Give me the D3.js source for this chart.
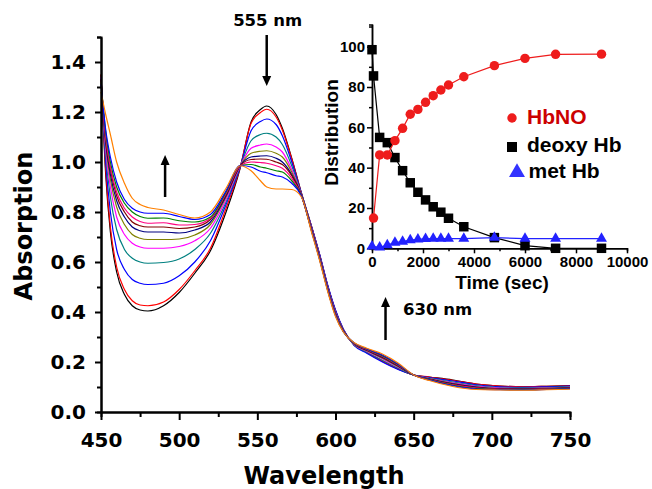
<!DOCTYPE html>
<html>
<head>
<meta charset="utf-8">
<title>HbNO formation - absorption spectra</title>
<script src="https://cdn.jsdelivr.net/npm/d3@7"></script>
<style>
  body { margin: 0; padding: 0; background: #fff; }
  svg { display: block; }
  .main text { font-family: "DejaVu Sans", sans-serif; font-weight: bold; fill: #000; }
  .inset text { font-family: "Liberation Sans", Arial, sans-serif; font-weight: bold; }
  .narrow text { font-family: "Liberation Sans Narrow", "Liberation Sans", Arial, sans-serif; }
  .spectrum { fill: none; stroke-width: 1.2px; }
</style>
</head>
<body>
<svg id="chart" width="652" height="489"></svg>
<script>
// ---- main panel: spectra read at these wavelengths (nm)
var wavelengths = [450, 453, 456, 460, 465, 470, 475, 480, 490, 500, 510, 520, 530, 539, 546, 552, 556, 562, 566, 572,
                   578, 585, 590, 595, 600, 605, 612, 620, 630, 640, 650, 660, 675, 690, 705, 720, 735, 750];

var absBlack   = [1.35, 0.95, 0.72, 0.56, 0.47, 0.425, 0.408, 0.404, 0.425, 0.478, 0.555, 0.645, 0.80, 0.975, 1.16, 1.21, 1.224, 1.19, 1.135, 1.015,
                  0.88, 0.735, 0.625, 0.505, 0.405, 0.33, 0.268, 0.238, 0.203, 0.172, 0.148, 0.14, 0.128, 0.112, 0.104, 0.101, 0.103, 0.106];
var absRed     = [1.35, 0.97, 0.74, 0.58, 0.49, 0.445, 0.428, 0.425, 0.44, 0.49, 0.565, 0.655, 0.815, 0.978, 1.155, 1.198, 1.211, 1.18, 1.128, 1.012,
                  0.879, 0.735, 0.625, 0.505, 0.405, 0.33, 0.268, 0.238, 0.204, 0.173, 0.148, 0.14, 0.127, 0.112, 0.104, 0.101, 0.103, 0.105];
var absBlue    = [1.34, 1.00, 0.80, 0.65, 0.57, 0.53, 0.515, 0.51, 0.515, 0.545, 0.60, 0.685, 0.83, 0.98, 1.125, 1.162, 1.172, 1.15, 1.105, 1.0,
                  0.878, 0.735, 0.627, 0.508, 0.408, 0.332, 0.266, 0.235, 0.20, 0.17, 0.148, 0.138, 0.124, 0.109, 0.101, 0.099, 0.101, 0.104];
var absCyan    = [1.34, 1.03, 0.86, 0.73, 0.65, 0.615, 0.60, 0.595, 0.598, 0.612, 0.65, 0.715, 0.84, 0.982, 1.085, 1.11, 1.115, 1.10, 1.07, 0.985,
                  0.875, 0.73, 0.62, 0.50, 0.40, 0.328, 0.268, 0.24, 0.207, 0.176, 0.148, 0.136, 0.12, 0.106, 0.098, 0.096, 0.098, 0.101];
var absMagenta = [1.34, 1.05, 0.90, 0.78, 0.71, 0.675, 0.66, 0.655, 0.655, 0.662, 0.685, 0.735, 0.85, 0.984, 1.055, 1.068, 1.072, 1.06, 1.04, 0.97,
                  0.873, 0.728, 0.618, 0.498, 0.398, 0.327, 0.27, 0.243, 0.212, 0.18, 0.148, 0.134, 0.117, 0.103, 0.096, 0.094, 0.096, 0.099];
var absOlive   = [1.33, 1.07, 0.93, 0.82, 0.75, 0.71, 0.695, 0.69, 0.69, 0.692, 0.708, 0.75, 0.86, 0.985, 1.035, 1.043, 1.045, 1.035, 1.02, 0.96,
                  0.872, 0.726, 0.616, 0.496, 0.396, 0.326, 0.271, 0.245, 0.215, 0.182, 0.148, 0.133, 0.115, 0.101, 0.094, 0.093, 0.095, 0.098];
var absNavy    = [1.33, 1.08, 0.95, 0.845, 0.78, 0.74, 0.725, 0.72, 0.72, 0.716, 0.728, 0.76, 0.865, 0.985, 1.02, 1.024, 1.025, 1.015, 1.0, 0.95,
                  0.871, 0.724, 0.614, 0.494, 0.394, 0.325, 0.272, 0.247, 0.218, 0.184, 0.148, 0.132, 0.113, 0.10, 0.093, 0.092, 0.094, 0.097];
var absWine    = [1.33, 1.09, 0.97, 0.865, 0.80, 0.76, 0.745, 0.74, 0.74, 0.734, 0.74, 0.77, 0.87, 0.985, 1.01, 1.012, 1.011, 1.0, 0.99, 0.945,
                  0.87, 0.722, 0.612, 0.492, 0.392, 0.324, 0.273, 0.249, 0.221, 0.186, 0.148, 0.131, 0.111, 0.098, 0.092, 0.091, 0.093, 0.096];
var absPink    = [1.32, 1.10, 0.98, 0.88, 0.815, 0.78, 0.762, 0.755, 0.757, 0.748, 0.75, 0.775, 0.875, 0.985, 1.0, 0.998, 0.995, 0.985, 0.975, 0.935,
                  0.869, 0.72, 0.61, 0.49, 0.39, 0.323, 0.274, 0.25, 0.223, 0.188, 0.148, 0.13, 0.109, 0.096, 0.091, 0.09, 0.092, 0.095];
var absGreen   = [1.32, 1.12, 1.00, 0.90, 0.835, 0.80, 0.782, 0.775, 0.776, 0.765, 0.76, 0.78, 0.88, 0.986, 0.99, 0.98, 0.975, 0.965, 0.96, 0.925,
                  0.868, 0.718, 0.608, 0.488, 0.388, 0.322, 0.275, 0.252, 0.225, 0.19, 0.148, 0.129, 0.107, 0.094, 0.09, 0.089, 0.091, 0.094];
var absRoyal   = [1.31, 1.13, 1.02, 0.92, 0.85, 0.815, 0.80, 0.795, 0.795, 0.782, 0.77, 0.79, 0.885, 0.986, 0.98, 0.963, 0.957, 0.945, 0.94, 0.915,
                  0.866, 0.716, 0.606, 0.486, 0.386, 0.321, 0.276, 0.253, 0.228, 0.192, 0.148, 0.128, 0.105, 0.092, 0.089, 0.088, 0.09, 0.093];
var absOrange  = [1.28, 1.19, 1.11, 1.00, 0.915, 0.855, 0.83, 0.818, 0.808, 0.79, 0.776, 0.80, 0.895, 0.985, 0.965, 0.925, 0.90, 0.892, 0.892, 0.89,
                  0.862, 0.712, 0.602, 0.482, 0.382, 0.32, 0.277, 0.255, 0.232, 0.196, 0.148, 0.126, 0.102, 0.09, 0.088, 0.087, 0.089, 0.091];

var xTicks = [450, 500, 550, 600, 650, 700, 750];
var yTicks = [0, 0.2, 0.4, 0.6, 0.8, 1.0, 1.2, 1.4];

// ---- inset: species distribution vs time
var timeHbNO  = [60, 300, 600, 900, 1200, 1500, 1800, 2100, 2400, 2700, 3000, 3600, 4800, 6000, 7200, 9000];
var hbno      = [15, 46.3, 46.3, 53.4, 59.5, 66.5, 68.9, 72.4, 75.7, 78.5, 81, 85.1, 90.6, 94.2, 96.2, 96.3];
var timeDeoxy = [0, 60, 300, 600, 900, 1200, 1500, 1800, 2100, 2400, 2700, 3000, 3600, 4800, 6000, 7200, 9000];
var deoxyHb   = [98.5, 85.5, 55, 52.4, 45, 38.5, 32.5, 27.8, 24, 20.6, 17.9, 14.9, 10.7, 5.3, 1.3, 0, 0];
var timeMet   = [0, 300, 600, 900, 1200, 1500, 1800, 2100, 2400, 2700, 3000, 3600, 4800, 6000, 7200, 9000];
var metHb     = [1, 0.5, 1.6, 2.8, 3.3, 4.1, 4.5, 4.7, 4.8, 4.8, 4.8, 4.8, 5.3, 4.8, 4.8, 4.8];
var timeTicks = [0, 2000, 4000, 6000, 8000, 10000];
var distTicks = [0, 20, 40, 60, 80, 100];

var svg = d3.select("#chart");

// ================= main plot =================
var x = d3.scaleLinear().domain([450, 750]).range([101, 570]);
var y = d3.scaleLinear().domain([0, 1.5]).range([412, 37]);

var main = svg.append("g").attr("class", "main");

var spectra = [
  { v: absBlack, c: "#000000" }, { v: absRed, c: "#ff0000" }, { v: absBlue, c: "#0000ff" },
  { v: absCyan, c: "#008080" }, { v: absMagenta, c: "#ff00ff" }, { v: absOlive, c: "#808000" },
  { v: absNavy, c: "#000080" }, { v: absWine, c: "#800000" }, { v: absPink, c: "#ff0080" },
  { v: absGreen, c: "#008000" }, { v: absRoyal, c: "#0000ff" }, { v: absOrange, c: "#ff8000" }
];

var spec = d3.line()
    .x(function(d, i) { return x(wavelengths[i]); })
    .y(function(d) { return y(d); })
    .curve(d3.curveMonotoneX);

main.selectAll("path.spectrum")
    .data(spectra)
  .enter().append("path")
    .attr("class", "spectrum")
    .attr("stroke", function(d) { return d.c; })
    .attr("d", function(d) { return spec(d.v); });

function styleAxis(g, w, size) {
  g.select(".domain").attr("stroke-width", w);
  g.selectAll(".tick line").attr("stroke-width", w);
  g.selectAll("text").attr("font-size", size).attr("font-family", null);
}

// minor ticks first, then major with labels
main.append("g")
    .attr("transform", "translate(0,412)")
    .call(d3.axisBottom(x).tickValues(d3.range(475, 750, 50)).tickSize(5).tickFormat(""))
    .call(styleAxis, 2, 20);
main.append("g")
    .attr("transform", "translate(0,412)")
    .call(d3.axisBottom(x).tickValues(xTicks).tickSize(8).tickSizeOuter(0).tickPadding(13).tickFormat(d3.format("d")))
    .call(styleAxis, 2, 20);

main.append("g")
    .attr("transform", "translate(101,0)")
    .call(d3.axisLeft(y).tickValues(d3.range(0.1, 1.55, 0.2)).tickSize(4).tickFormat(""))
    .call(styleAxis, 2, 20);
main.append("g")
    .attr("transform", "translate(101,0)")
    .call(d3.axisLeft(y).tickValues(yTicks).tickSize(6).tickSizeOuter(0).tickPadding(9).tickFormat(d3.format(".1f")))
    .call(styleAxis, 2, 20);

main.append("text")
    .attr("x", 324).attr("y", 484)
    .attr("text-anchor", "middle")
    .attr("font-size", 24)
    .text("Wavelength");
main.append("text")
    .attr("transform", "translate(32,226) rotate(-90)")
    .attr("text-anchor", "middle")
    .attr("font-size", 24)
    .text("Absorption");

// arrows and labels
var arrows = [
  { nm: 556, from: 1.508, to: 1.304 },
  { nm: 491, from: 0.86, to: 1.028 },
  { nm: 632, from: 0.288, to: 0.46 }
];
arrows.forEach(function(a) {
  var ax = x(a.nm), y0 = y(a.from), y1 = y(a.to), dir = y1 > y0 ? 1 : -1;
  main.append("line")
      .attr("x1", ax).attr("x2", ax)
      .attr("y1", y0).attr("y2", y1 - dir * 9)
      .attr("stroke", "#000").attr("stroke-width", 2.5);
  main.append("path")
      .attr("d", "M" + (ax - 4.5) + "," + (y1 - dir * 10) + "L" + (ax + 4.5) + "," + (y1 - dir * 10) + "L" + ax + "," + y1 + "Z")
      .attr("fill", "#000");
});
main.append("text").attr("x", x(556) + 1).attr("y", 26).attr("text-anchor", "middle").attr("font-size", 16.5).text("555 nm");
main.append("text").attr("x", 403).attr("y", 315).attr("font-size", 16.5).text("630 nm");

// ================= inset =================
var tx = d3.scaleLinear().domain([0, 10000]).range([372, 627]);
var ty = d3.scaleLinear().domain([0, 111]).range([248.3, 24.5]);

var inset = svg.append("g").attr("class", "inset");

inset.append("g")
    .attr("transform", "translate(0,248.3)")
    .call(d3.axisBottom(tx).tickValues(d3.range(1000, 10000, 2000)).tickSize(3).tickFormat(""))
    .call(styleAxis, 1.5, 14);
inset.append("g")
    .attr("class", "narrow")
    .attr("transform", "translate(0,248.3)")
    .call(d3.axisBottom(tx).tickValues(timeTicks).tickSize(5).tickSizeOuter(0).tickPadding(3).tickFormat(d3.format("d")))
    .call(styleAxis, 1.5, 15);
inset.append("g")
    .attr("transform", "translate(372,0)")
    .call(d3.axisLeft(ty).tickValues(d3.range(10, 111, 20)).tickSize(3).tickFormat(""))
    .call(styleAxis, 1.5, 14);
inset.append("g")
    .attr("class", "narrow")
    .attr("transform", "translate(372,0)")
    .call(d3.axisLeft(ty).tickValues(distTicks).tickSize(5).tickSizeOuter(0).tickPadding(2).tickFormat(d3.format("d")))
    .call(styleAxis, 1.5, 15);

inset.append("text")
    .attr("x", 502).attr("y", 289)
    .attr("text-anchor", "middle")
    .attr("font-size", 19)
    .text("Time (sec)");
inset.append("text")
    .attr("transform", "translate(338,132.5) rotate(-90)")
    .attr("text-anchor", "middle")
    .attr("font-size", 19)
    .text("Distribution");

var series = [
  { t: timeDeoxy, v: deoxyHb, c: "#000000", sym: d3.symbolSquare, size: 90 },
  { t: timeMet, v: metHb, c: "#2222ff", sym: d3.symbolTriangle, size: 52 },
  { t: timeHbNO, v: hbno, c: "#ee1c1c", sym: d3.symbolCircle, size: 70 }
];
series.forEach(function(s) {
  var pts = s.t.map(function(t, i) { return [t, s.v[i]]; });
  inset.append("path")
      .attr("d", d3.line().x(function(d) { return tx(d[0]); }).y(function(d) { return ty(d[1]); })(pts))
      .attr("fill", "none").attr("stroke", s.c).attr("stroke-width", 1.2);
  inset.selectAll(null)
      .data(pts)
    .enter().append("path")
      .attr("transform", function(d) { return "translate(" + tx(d[0]) + "," + ty(d[1]) + ")"; })
      .attr("d", d3.symbol().type(s.sym).size(s.size))
      .attr("fill", s.c);
});

// legend
var legend = [
  { label: "HbNO", sym: d3.symbolCircle, size: 70, c: "#ee1c1c", tc: "#cc0000", lx: 512, ly: 118, tx: 527, ty: 123.5 },
  { label: "deoxy Hb", sym: d3.symbolSquare, size: 100, c: "#000000", tc: "#000000", lx: 512, ly: 147, tx: 527, ty: 151.5 },
  { label: "met Hb", sym: d3.symbolTriangle, size: 110, c: "#3333ff", tc: "#000000", lx: 517, ly: 172.5, tx: 528.5, ty: 178 }
];
legend.forEach(function(l) {
  inset.append("path")
      .attr("transform", "translate(" + l.lx + "," + l.ly + ")")
      .attr("d", d3.symbol().type(l.sym).size(l.size))
      .attr("fill", l.c);
  inset.append("text")
      .attr("x", l.tx).attr("y", l.ty)
      .attr("font-size", 21)
      .attr("fill", l.tc)
      .text(l.label);
});
</script>
</body>
</html>
